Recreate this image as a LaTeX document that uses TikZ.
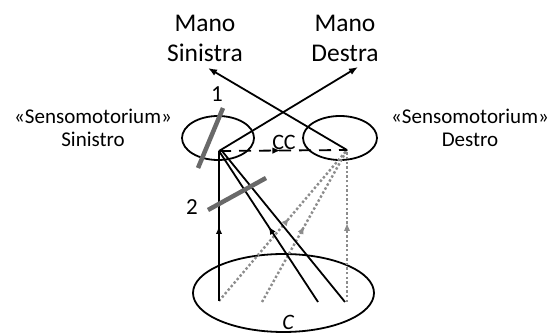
\documentclass[tikz,border=0pt]{standalone}
\usepackage{fontspec}
\setmainfont{Carlito}
\usepackage{tikz}
\usetikzlibrary{arrows.meta, decorations.markings}
\definecolor{lesiongray}{RGB}{105, 105, 105}
\definecolor{dotgray}{RGB}{140, 140, 140}

\tikzset{
    conn/.style={line width=1.8pt, black},
    tip/.style={-{Latex[length=9pt, width=7pt]}},
    midarrow/.style={postaction={decorate}, decoration={markings,
        mark=at position #1 with {\arrow{Latex[length=8pt, width=6.5pt]}}}},
    dotline/.style={dotgray, line width=2.4pt, dash pattern=on 2.4pt off 2.2pt},
    lesion/.style={lesiongray, line width=4.5pt},
    toplabel/.style={inner sep=0pt, align=center, font=\fontsize{25.5}{30}\selectfont},
    sidelabel/.style={inner sep=0pt, align=center, font=\fontsize{21}{23}\selectfont},
    numlabel/.style={inner sep=0pt, font=\fontsize{23}{26}\selectfont},
    cclabel/.style={inner sep=0pt, font=\fontsize{22}{24}\selectfont},
}

\begin{document}
\begin{tikzpicture}[x=1pt, y=1pt]
    \useasboundingbox (0,0) rectangle (551,334);

    % Sensomotoria and body
    \draw[conn] (218,196) ellipse (36 and 22);
    \draw[conn] (340,196) ellipse (37 and 22);
    \draw[conn] (283.5,41) ellipse (90.5 and 39);

    % Points
    \coordinate (sxIn) at (219,183);
    \coordinate (dxIn) at (347,184);
    \coordinate (tipSin) at (208,266);
    \coordinate (tipDes) at (358,267);
    \coordinate (c1) at (219,33);
    \coordinate (c2) at (262,32);
    \coordinate (c3) at (318,32);
    \coordinate (c4) at (345,32);
    \coordinate (c5) at (347,32);

    % Labels
    \node[toplabel, anchor=north] (manoSin) at (205,319) {Mano\\Sinistra};
    \node[toplabel, anchor=north] (manoDes) at (345,319) {Mano\\Destra};
    \node[sidelabel, anchor=north] (smSin) at (93,225) {«Sensomotorium»\\Sinistro};
    \node[sidelabel, anchor=north] (smDes) at (470,225) {«Sensomotorium»\\Destro};
    \node[numlabel] (one) at (217,240) {1};
    \node[numlabel] (two) at (192,127) {2};
    \node[cclabel] (cc) at (284,192) {CC};
    \node[cclabel] (body) at (288,12) {\itshape C};

    % Dotted pathways
    \draw[dotline, midarrow=0.55] (c1) -- (dxIn);
    \draw[dotline, midarrow=0.5] (c2) -- (dxIn);
    \draw[dotline, midarrow=0.52] (c5) -- (dxIn);

    % Solid pathways
    \draw[conn, tip] (sxIn) -- (tipDes);
    \draw[conn, tip] (dxIn) -- (tipSin);
    \draw[conn, dash pattern=on 12pt off 8pt, midarrow=0.48] (sxIn) -- (dxIn);
    \draw[conn, midarrow=0.5] (c1) -- (sxIn);
    \draw[conn, midarrow=0.5] (c3) -- (sxIn);
    \draw[conn] (c4) -- ([xshift=3pt]sxIn);

    % Lesions
    \draw[lesion] (198,166) -- (223,226);
    \draw[lesion] (208,124) -- (266,156);
\end{tikzpicture}
\end{document}
